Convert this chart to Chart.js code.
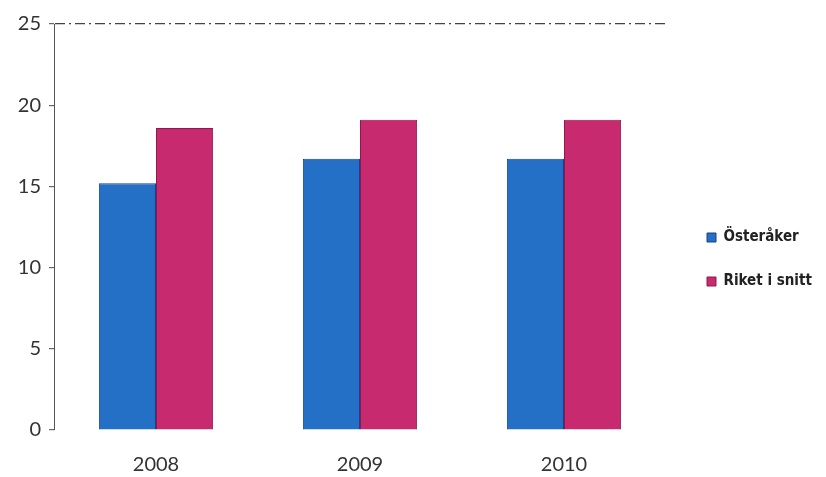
<!DOCTYPE html>
<html>
<head>
<meta charset="utf-8">
<script src="https://cdn.jsdelivr.net/npm/chart.js@4"></script>
<style>
  html, body { margin: 0; padding: 0; background: #ffffff; }
  #wrap { width: 826px; height: 477px; position: relative; }
</style>
</head>
<body>
<div id="wrap"><canvas id="c" width="826" height="477"></canvas></div>
<script>
const categories = ['2008', '2009', '2010'];
const osteraker = [15.2, 16.7, 16.7];
const riket = [18.6, 19.1, 19.1];
const seriesNames = ['Österåker', 'Riket i snitt'];
const yTicks = [0, 5, 10, 15, 20, 25];

const legendShift = {
  id: 'legendShift',
  beforeInit(chart) {
    const lg = chart.legend;
    const origFit = lg.fit;
    lg.fit = function () {
      origFit.call(this);
      this.width = 160;
    };
    const origDraw = lg.draw;
    lg.draw = function () {
      const ctx = chart.ctx;
      ctx.save();
      ctx.translate(12, 9);
      origDraw.call(this);
      ctx.restore();
    };
  }
};

new Chart(document.getElementById('c'), {
  type: 'bar',
  data: {
    labels: categories,
    datasets: [
      {
        label: seriesNames[0],
        data: osteraker,
        backgroundColor: '#2470c6',
        borderColor: '#1b3f8c',
        borderWidth: 1
      },
      {
        label: seriesNames[1],
        data: riket,
        backgroundColor: '#c82a6f',
        borderColor: '#8c1a4c',
        borderWidth: 1
      }
    ]
  },
  options: {
    responsive: false,
    animation: false,
    layout: { padding: { top: 24, bottom: 0, left: 0, right: 0 } },
    datasets: { bar: { categoryPercentage: 0.56, barPercentage: 1.0 } },
    scales: {
      x: {
        afterFit(s) { s.height = 47; },
        grid: { display: false },
        border: { display: false },
        ticks: {
          padding: 15,
          color: '#333',
          font: { family: 'Lato', size: 20 }
        }
      },
      y: {
        min: 0,
        max: 25,
        afterFit(s) { s.width = 54; },
        afterBuildTicks(s) { s.ticks = yTicks.map(v => ({ value: v })); },
        grid: {
          color: ctx => (ctx.tick && ctx.tick.value === 25) ? '#444' : 'rgba(0,0,0,0)',
          lineWidth: 1.2,
          tickColor: '#666',
          tickLength: 5,
          drawTicks: true
        },
        border: {
          display: true,
          color: '#555',
          width: 1,
          dash: [10, 4, 2, 4]
        },
        ticks: {
          padding: 8,
          color: '#333',
          font: { family: 'Lato', size: 20 }
        }
      }
    },
    plugins: {
      legend: {
        position: 'right',
        align: 'center',
        labels: {
          boxWidth: 9,
          boxHeight: 9,
          padding: 29,
          color: '#222',
          font: { family: 'DejaVu Sans Condensed', size: 15, weight: 'bold' }
        }
      },
      tooltip: { enabled: false }
    }
  },
  plugins: [legendShift]
});
</script>
</body>
</html>
